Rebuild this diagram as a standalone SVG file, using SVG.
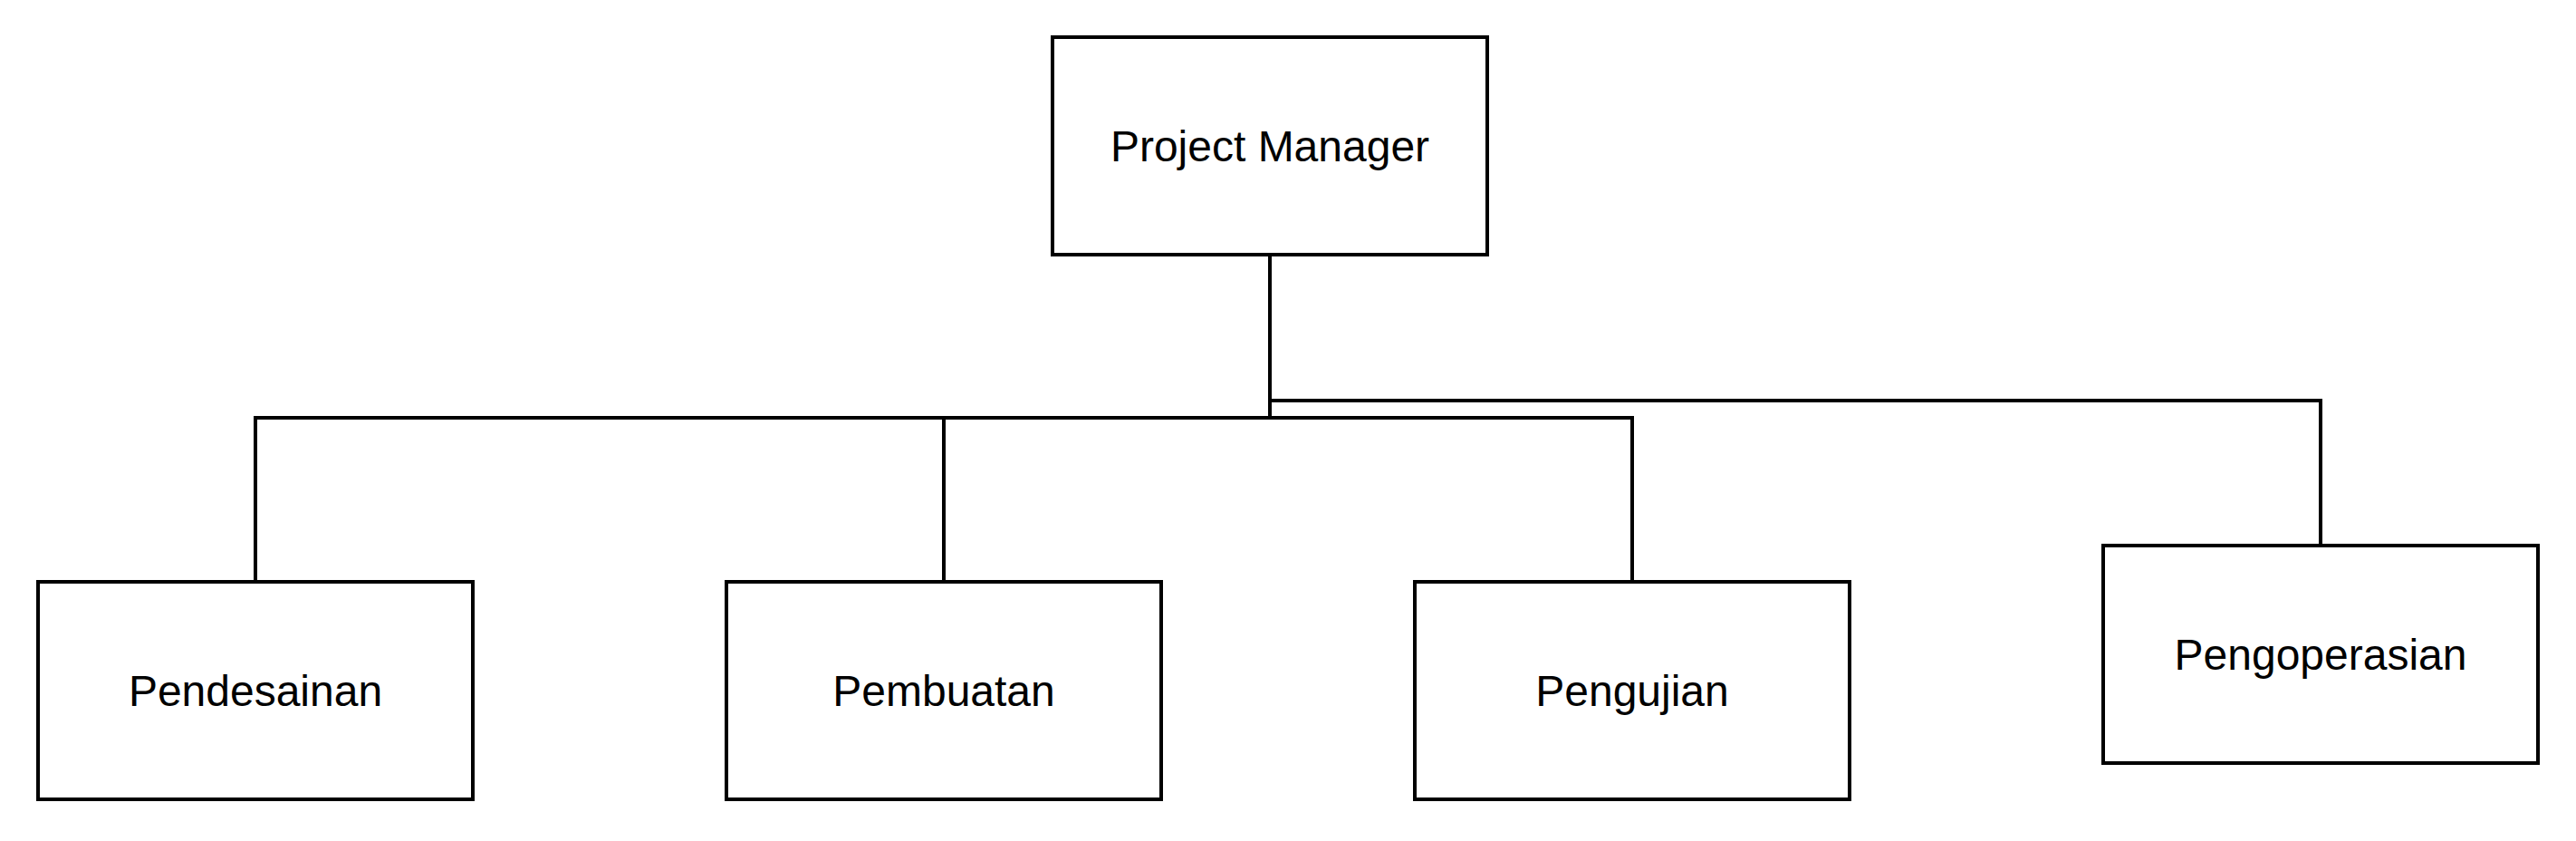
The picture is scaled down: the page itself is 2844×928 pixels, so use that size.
<svg xmlns="http://www.w3.org/2000/svg" width="2844" height="928" viewBox="0 0 2844 928">
<style>
.box{fill:#fff;stroke:#000;stroke-width:4}
.lbl{font-family:"Liberation Sans",Arial,sans-serif;font-size:48px;fill:#000;text-anchor:middle}
.edge{fill:none;stroke:#000;stroke-width:4}
</style>
<rect width="2844" height="928" fill="#fff"/>
<g id="connectors">
<path class="edge" d="M1402 281 V461 H282 V642"/>
<path class="edge" d="M1402 461 H1042 V642"/>
<path class="edge" d="M1402 461 H1802 V642"/>
<path class="edge" d="M1402 442 H2562 V602"/>
</g>
<g id="project-manager">
<rect class="box" x="1162" y="41" width="480" height="240"/>
<text class="lbl" x="1402" y="178">Project Manager</text>
</g>
<g id="pendesainan">
<rect class="box" x="42" y="642" width="480" height="240"/>
<text class="lbl" x="282" y="779">Pendesainan</text>
</g>
<g id="pembuatan">
<rect class="box" x="802" y="642" width="480" height="240"/>
<text class="lbl" x="1042" y="779">Pembuatan</text>
</g>
<g id="pengujian">
<rect class="box" x="1562" y="642" width="480" height="240"/>
<text class="lbl" x="1802" y="779">Pengujian</text>
</g>
<g id="pengoperasian">
<rect class="box" x="2322" y="602" width="480" height="240"/>
<text class="lbl" x="2562" y="739">Pengoperasian</text>
</g>
</svg>
